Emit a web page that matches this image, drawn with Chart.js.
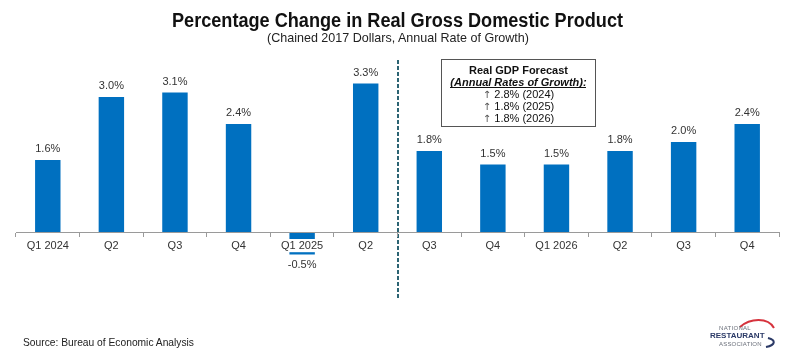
<!DOCTYPE html>
<html>
<head>
<meta charset="utf-8">
<script src="https://cdn.jsdelivr.net/npm/chart.js@4/dist/chart.umd.min.js"></script>
<style>
  html, body { margin: 0; padding: 0; background: #fff; }
  #wrap { position: relative; width: 799px; height: 357px; overflow: hidden; font-family: "Liberation Sans", Arial, sans-serif; }
  #c { position: absolute; left: 0; top: 0; }
  .txt { position: absolute; white-space: nowrap; color: #111; transform-origin: left center; }
  #title { font-weight: bold; font-size: 20px; top: 9px; }
  #subtitle { font-size: 13.5px; top: 30px; color: #222; }
  #source { font-size: 11px; left: 23px; top: 336px; color: #222; }
  #logo { position: absolute; left: 706px; top: 318px; width: 86px; height: 32px; }
  #logo .n1 { position: absolute; left: 13px; top: 7px; font-size: 6px; color: #6a6f7a; letter-spacing: 0.3px; }
  #logo .n2 { position: absolute; left: 4px; top: 13px; font-size: 8px; font-weight: bold; color: #2b3a67; }
  #logo .n3 { position: absolute; left: 13px; top: 23px; font-size: 6px; color: #6a6f7a; letter-spacing: 0.2px; }
  #logo svg { position: absolute; left: 0; top: 0; }
</style>
</head>
<body>
<div id="wrap">
  <canvas id="c" width="799" height="357"></canvas>
  <div id="title" class="txt">Percentage Change in Real Gross Domestic Product</div>
  <div id="subtitle" class="txt">(Chained 2017 Dollars, Annual Rate of Growth)</div>
  <div id="source" class="txt">Source: Bureau of Economic Analysis</div>
  <div id="logo">
    <svg width="86" height="32" viewBox="0 0 86 32">
      <path d="M34 9 C44 0, 62 -1, 68 10" fill="none" stroke="#d6333d" stroke-width="2"/>
      <path d="M62 20 C70 22, 70 27, 60 29" fill="none" stroke="#2b3a67" stroke-width="2"/>
    </svg>
    <div class="n1">NATIONAL</div>
    <div class="n2">RESTAURANT</div>
    <div class="n3">ASSOCIATION</div>
  </div>
</div>
<script>
// ---- Data ----
const categories = ["Q1 2024", "Q2", "Q3", "Q4", "Q1 2025", "Q2", "Q3", "Q4", "Q1 2026", "Q2", "Q3", "Q4"];
const growthValues = [1.6, 3.0, 3.1, 2.4, -0.5, 3.3, 1.8, 1.5, 1.5, 1.8, 2.0, 2.4];
const valueLabels = ["1.6%", "3.0%", "3.1%", "2.4%", "-0.5%", "3.3%", "1.8%", "1.5%", "1.5%", "1.8%", "2.0%", "2.4%"];
const dividerAfterIndex = 5; // dashed line between actual and forecast
const forecastTitle = "Real GDP Forecast";
const forecastSubtitle = "(Annual Rates of Growth):";
const forecastLines = ["2.8% (2024)", "1.8% (2025)", "1.8% (2026)"];

// fit text widths (reference typography is condensed)
function fitText(id, targetLeft, targetWidth) {
  const el = document.getElementById(id);
  el.style.left = targetLeft + "px";
  const w = el.getBoundingClientRect().width;
  el.style.transform = "scaleX(" + (targetWidth / w) + ")";
}
fitText("title", 172, 451);
fitText("subtitle", 267, 262);
fitText("source", 23, 171);

const barLabelPlugin = {
  id: "barLabels",
  afterDatasetsDraw(chart) {
    const ctx = chart.ctx;
    const meta = chart.getDatasetMeta(0);
    ctx.save();
    ctx.font = "11px 'Liberation Sans', Arial, sans-serif";
    ctx.fillStyle = "#333";
    ctx.textAlign = "center";
    ctx.textBaseline = "alphabetic";
    meta.data.forEach((bar, i) => {
      const v = growthValues[i];
      const y = v >= 0 ? bar.y - 8 : bar.y + 13;
      ctx.fillText(valueLabels[i], bar.x, y);
    });
    ctx.restore();
  }
};

const dividerPlugin = {
  id: "divider",
  afterDatasetsDraw(chart) {
    const x = chart.scales.x;
    const px = (x.getPixelForValue(dividerAfterIndex) + x.getPixelForValue(dividerAfterIndex + 1)) / 2;
    const ctx = chart.ctx;
    ctx.save();
    ctx.strokeStyle = "#2c6473";
    ctx.lineWidth = 2;
    ctx.setLineDash([4, 2]);
    ctx.beginPath();
    ctx.moveTo(Math.round(px), 60);
    ctx.lineTo(Math.round(px), 298);
    ctx.stroke();
    ctx.restore();
  }
};

const forecastBoxPlugin = {
  id: "forecastBox",
  afterDraw(chart) {
    const ctx = chart.ctx;
    const bx = 441.5, by = 59.5, bw = 154, bh = 67;
    const cx = bx + bw / 2;
    ctx.save();
    ctx.fillStyle = "#fff";
    ctx.fillRect(bx, by, bw, bh);
    ctx.strokeStyle = "#555";
    ctx.lineWidth = 1;
    ctx.strokeRect(bx, by, bw, bh);
    ctx.fillStyle = "#111";
    ctx.textAlign = "center";
    ctx.textBaseline = "alphabetic";
    ctx.font = "bold 11px 'Liberation Sans', Arial, sans-serif";
    ctx.fillText(forecastTitle, cx, 74);
    ctx.font = "italic bold 11px 'Liberation Sans', Arial, sans-serif";
    ctx.fillText(forecastSubtitle, cx, 86);
    const sw = ctx.measureText(forecastSubtitle).width;
    ctx.fillRect(Math.round(cx - sw / 2), 87, Math.round(sw), 1);
    forecastLines.forEach((t, i) => {
      const y = 98 + i * 12;
      ctx.font = "11px 'Liberation Sans', Arial, sans-serif";
      const tw = ctx.measureText(t).width;
      ctx.font = "10px 'DejaVu Sans', sans-serif";
      const aw = ctx.measureText("↑ ").width;
      const start = cx - (tw + aw) / 2;
      ctx.textAlign = "left";
      ctx.fillStyle = "#555";
      ctx.fillText("↑", start, y);
      ctx.fillStyle = "#111";
      ctx.font = "11px 'Liberation Sans', Arial, sans-serif";
      ctx.fillText(t, start + aw, y);
      ctx.textAlign = "center";
    });
    ctx.restore();
  }
};

new Chart(document.getElementById("c"), {
  type: "bar",
  data: {
    labels: categories,
    datasets: [{
      data: growthValues,
      backgroundColor: "#0070c0",
      borderWidth: 0,
      barPercentage: 0.4,
      categoryPercentage: 1.0
    }]
  },
  options: {
    responsive: false,
    animation: false,
    devicePixelRatio: 1,
    layout: { padding: { left: 16, right: 20, top: 61, bottom: 53 } },
    plugins: { legend: { display: false }, tooltip: { enabled: false }, title: { display: false } },
    scales: {
      y: { display: false, min: -1.6, max: 3.8 },
      x: {
        position: { y: 0 },
        offset: true,
        grid: { display: true, drawOnChartArea: false, drawTicks: true, tickLength: 4, color: "#9a9a9a", offset: true, z: 1 },
        border: { display: true, color: "#9a9a9a", width: 1, z: 1 },
        ticks: {
          z: 1,
          color: "#333",
          font: { family: "'Liberation Sans', Arial, sans-serif", size: 11 },
          padding: 3,
          maxRotation: 0,
          autoSkip: false,
          showLabelBackdrop: true,
          backdropColor: "#ffffff",
          backdropPadding: { top: 0, bottom: 0, left: 1, right: 1 }
        }
      }
    }
  },
  plugins: [barLabelPlugin, dividerPlugin, forecastBoxPlugin]
});
</script>
</body>
</html>
